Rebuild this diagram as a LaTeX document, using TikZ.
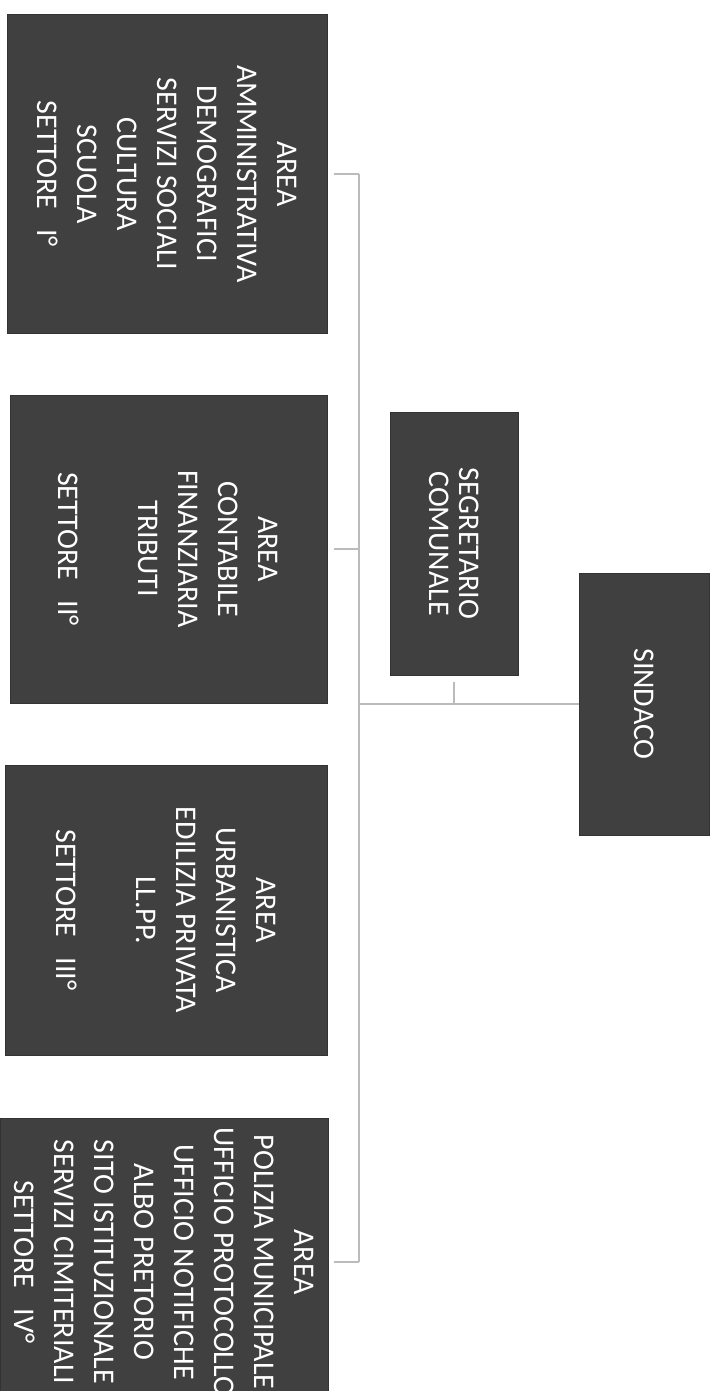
\documentclass[tikz,border=0pt]{standalone}
\usepackage{fontspec}
\setmainfont{Carlito}
\definecolor{boxfill}{HTML}{404040}
\definecolor{boxedge}{HTML}{333333}
\definecolor{linegray}{HTML}{BBBBBB}
\begin{document}
\begin{tikzpicture}[x=1pt,y=-1pt,
  box/.style={rectangle, fill=boxfill, draw=boxedge, line width=1pt, inner sep=0pt},
  label/.style={rotate=-90, text=white, align=center, inner sep=0pt,
    font=\fontsize{30}{40}\selectfont},
  conn/.style={draw=linegray, line width=2.6pt},
  tick/.style={draw=linegray, line width=1.6pt}]
\useasboundingbox (0,0) rectangle (720,1391);
% boxes
\node[box, minimum width=320pt, minimum height=318pt] (b1) at (167,174) {};
\node[box, minimum width=317pt, minimum height=308pt] (b2) at (168.5,549) {};
\node[box, minimum width=322pt, minimum height=290pt] (b3) at (166,910) {};
\node[box, minimum width=328pt, minimum height=288pt] (b4) at (164,1262) {};
\node[box, minimum width=128pt, minimum height=263pt] (seg) at (454,543.5) {};
\node[box, minimum width=130pt, minimum height=262pt] (sin) at (644,704) {};
% texts
\node[label] (t1) at (b1) {AREA\\AMMINISTRATIVA\\DEMOGRAFICI\\SERVIZI SOCIALI\\CULTURA\\SCUOLA\\SETTORE\ \ \ I°};
\node[label] (t2) at (b2) {AREA\\CONTABILE\\FINANZIARIA\\TRIBUTI\\ \\SETTORE\ \ \ II°};
\node[label] (t3) at (b3) {AREA\\URBANISTICA\\EDILIZIA PRIVATA\\LL.PP.\\ \\SETTORE\ \ \ III°};
\node[label] (t4) at (b4) {AREA\\POLIZIA MUNICIPALE\\UFFICIO PROTOCOLLO\\UFFICIO NOTIFICHE\\ALBO PRETORIO\\SITO ISTITUZIONALE\\SERVIZI CIMITERIALI\\SETTORE\ \ \ IV°};
\node[label, font=\fontsize{30}{30}\selectfont] (tseg) at (seg) {SEGRETARIO\\COMUNALE};
\node[label] (tsin) at (sin) {SINDACO};
% connectors
\coordinate (ttop) at (359,174);
\coordinate (tbot) at (359,1262);
\coordinate (tmid) at (359,704);
\draw[conn] (ttop) -- (tbot);
\draw[conn, shorten <=6pt] (b1.east) -- (ttop);
\draw[conn, shorten <=6pt] (b2.east) -- (b2.east -| ttop);
\draw[conn, shorten <=5pt] (b4.east) -- (tbot);
\draw[conn] (sin.west) -- (tmid);
\draw[tick, shorten <=6pt] (seg.south) -- (seg.south |- tmid);
\end{tikzpicture}
\end{document}
